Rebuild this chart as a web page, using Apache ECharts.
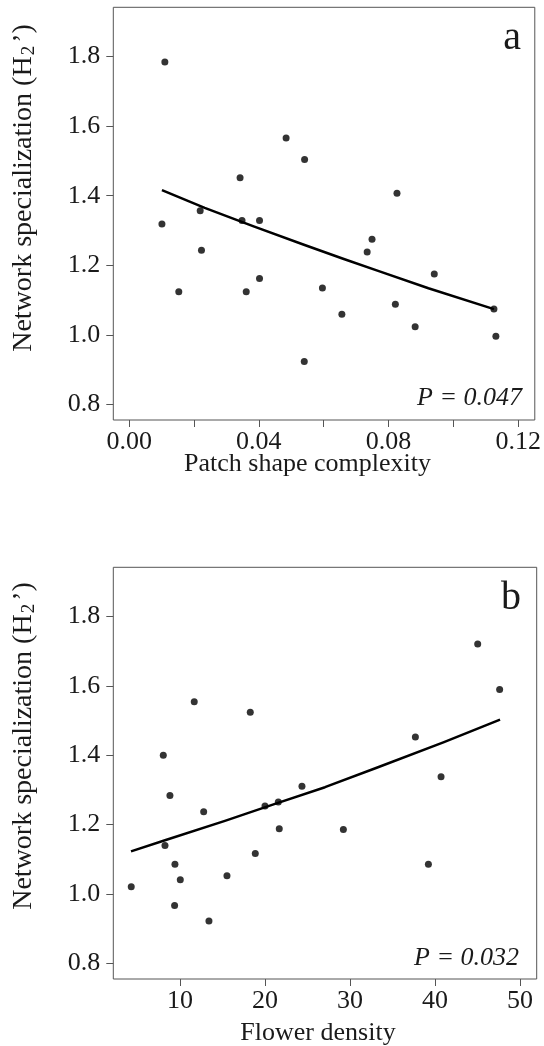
<!DOCTYPE html>
<html>
<head>
<meta charset="utf-8">
<script src="https://cdn.jsdelivr.net/npm/echarts@6/dist/echarts.min.js"></script>
<style>
html,body{margin:0;padding:0;background:#fff;}
#chart{width:544px;height:1046px;}
</style>
</head>
<body>
<div id="chart"></div>
<script>
// ---- Panel a: patch shape complexity ----
const aX = [0.0110, 0.0484, 0.0541, 0.0342, 0.0826, 0.0219, 0.0101, 0.0348, 0.0402, 0.0749, 0.0734, 0.0223,
            0.0941, 0.0402, 0.0153, 0.0361, 0.0596, 0.0821, 0.1125, 0.0656, 0.0882, 0.1131, 0.0540];
const aY = [1.785, 1.566, 1.504, 1.452, 1.407, 1.357, 1.319, 1.329, 1.329, 1.275, 1.238, 1.243,
            1.175, 1.162, 1.124, 1.124, 1.135, 1.088, 1.074, 1.059, 1.023, 0.996, 0.923];
const aFitX = [0.0101, 0.0233, 0.0386, 0.0539, 0.0662, 0.0770, 0.0923, 0.1125];
const aFitY = [1.416, 1.365, 1.311, 1.259, 1.218, 1.183, 1.134, 1.074];
const aTicks = [0.00, 0.02, 0.04, 0.06, 0.08, 0.10, 0.12];
const aLabels = [0.00, 0.04, 0.08, 0.12];

// ---- Panel b: flower density ----
const bX = [45.02, 47.60, 11.68, 18.27, 37.69, 8.04, 40.71, 8.82, 24.35, 12.79, 20.00, 21.57,
            21.68, 29.22, 8.24, 18.86, 9.41, 39.22, 10.04, 15.53, 4.27, 9.37, 13.41];
const bY = [1.721, 1.590, 1.554, 1.524, 1.453, 1.400, 1.338, 1.284, 1.311, 1.237, 1.254, 1.265,
            1.188, 1.186, 1.140, 1.117, 1.086, 1.086, 1.041, 1.053, 1.021, 0.967, 0.922];
const bFitX = [4.24, 8.24, 15.29, 21.18, 27.06, 33.14, 40.98, 47.65];
const bFitY = [1.123, 1.155, 1.211, 1.260, 1.308, 1.364, 1.437, 1.503];
const bTicks = [10, 20, 30, 40, 50];

const yTicks = [0.8, 1.0, 1.2, 1.4, 1.6, 1.8];

const FONT = "'Liberation Serif', 'Times New Roman', serif";
const TXT = '#1a1a1a';
const AX = '#555555';

function zip(xs, ys) { return xs.map((x, i) => [x, ys[i]]); }

function xAxisDef(grid, min, max, ticks, labels, fmt) {
  return {
    type: 'value', gridIndex: grid, min: min, max: max,
    axisLine: { show: false, onZero: false }, splitLine: { show: false },
    axisTick: { show: true, customValues: ticks, length: 7, lineStyle: { color: AX, width: 1 } },
    axisLabel: { customValues: labels, formatter: fmt, fontSize: 26, fontFamily: FONT, color: TXT, margin: 9 }
  };
}
function yAxisDef(grid) {
  return {
    type: 'value', gridIndex: grid, min: 0.755, max: 1.942,
    axisLine: { show: false, onZero: false }, splitLine: { show: false },
    axisTick: { show: true, customValues: yTicks, length: 7, lineStyle: { color: AX, width: 1 } },
    axisLabel: { customValues: yTicks, formatter: v => v.toFixed(1), fontSize: 26, fontFamily: FONT, color: TXT, margin: 13 }
  };
}

const ytitleRich = {
  n: { fontSize: 28, fontFamily: FONT, color: TXT },
  s: { fontSize: 19, fontFamily: FONT, color: TXT, verticalAlign: 'bottom', padding: [11, 3, 0, 1] }
};

const chart = echarts.init(document.getElementById('chart'), null, { renderer: 'canvas' });
chart.setOption({
  animation: false,
  backgroundColor: '#ffffff',
  grid: [
    { left: 113.3, top: 7.3, width: 423.4, height: 412.7, show: true, borderColor: AX, borderWidth: 1, backgroundColor: 'transparent' },
    { left: 113.3, top: 567.3, width: 423.4, height: 411.7, show: true, borderColor: AX, borderWidth: 1, backgroundColor: 'transparent' }
  ],
  xAxis: [
    xAxisDef(0, -0.0049, 0.1251, aTicks, aLabels, v => v.toFixed(2)),
    xAxisDef(1, 2.16, 51.96, bTicks, bTicks, v => String(Math.round(v)))
  ],
  yAxis: [yAxisDef(0), yAxisDef(1)],
  series: [
    { type: 'scatter', xAxisIndex: 0, yAxisIndex: 0, data: zip(aX, aY), symbol: 'circle', symbolSize: 7, itemStyle: { color: '#000' } },
    { type: 'line', xAxisIndex: 0, yAxisIndex: 0, data: zip(aFitX, aFitY), smooth: false, showSymbol: false, lineStyle: { color: '#000', width: 2.5, join: 'round' } },
    { type: 'scatter', xAxisIndex: 1, yAxisIndex: 1, data: zip(bX, bY), symbol: 'circle', symbolSize: 7, itemStyle: { color: '#000' } },
    { type: 'line', xAxisIndex: 1, yAxisIndex: 1, data: zip(bFitX, bFitY), smooth: false, showSymbol: false, lineStyle: { color: '#000', width: 2.5, join: 'round' } }
  ],
  graphic: [
    { type: 'text', x: 307.5, y: 464, style: { text: 'Patch shape complexity', font: '26px ' + FONT, fill: TXT, align: 'center', verticalAlign: 'middle' } },
    { type: 'text', x: 318, y: 1033, style: { text: 'Flower density', font: '26px ' + FONT, fill: TXT, align: 'center', verticalAlign: 'middle' } },
    { type: 'text', x: 24, y: 188, rotation: Math.PI / 2, style: { text: '{n|Network specialization (H}{s|2}{n|’)}', rich: ytitleRich, font: '28px ' + FONT, fill: TXT, align: 'center', verticalAlign: 'middle' } },
    { type: 'text', x: 24, y: 746, rotation: Math.PI / 2, style: { text: '{n|Network specialization (H}{s|2}{n|’)}', rich: ytitleRich, font: '28px ' + FONT, fill: TXT, align: 'center', verticalAlign: 'middle' } },
    { type: 'text', x: 521, y: 38.5, style: { text: 'a', font: '40px ' + FONT, fill: TXT, align: 'right', verticalAlign: 'middle' } },
    { type: 'text', x: 521, y: 598.5, style: { text: 'b', font: '40px ' + FONT, fill: TXT, align: 'right', verticalAlign: 'middle' } },
    { type: 'text', x: 522, y: 398, style: { text: 'P = 0.047', font: 'italic 26px ' + FONT, fill: TXT, align: 'right', verticalAlign: 'middle' } },
    { type: 'text', x: 519, y: 958, style: { text: 'P = 0.032', font: 'italic 26px ' + FONT, fill: TXT, align: 'right', verticalAlign: 'middle' } }
  ]
});
</script>
</body>
</html>
